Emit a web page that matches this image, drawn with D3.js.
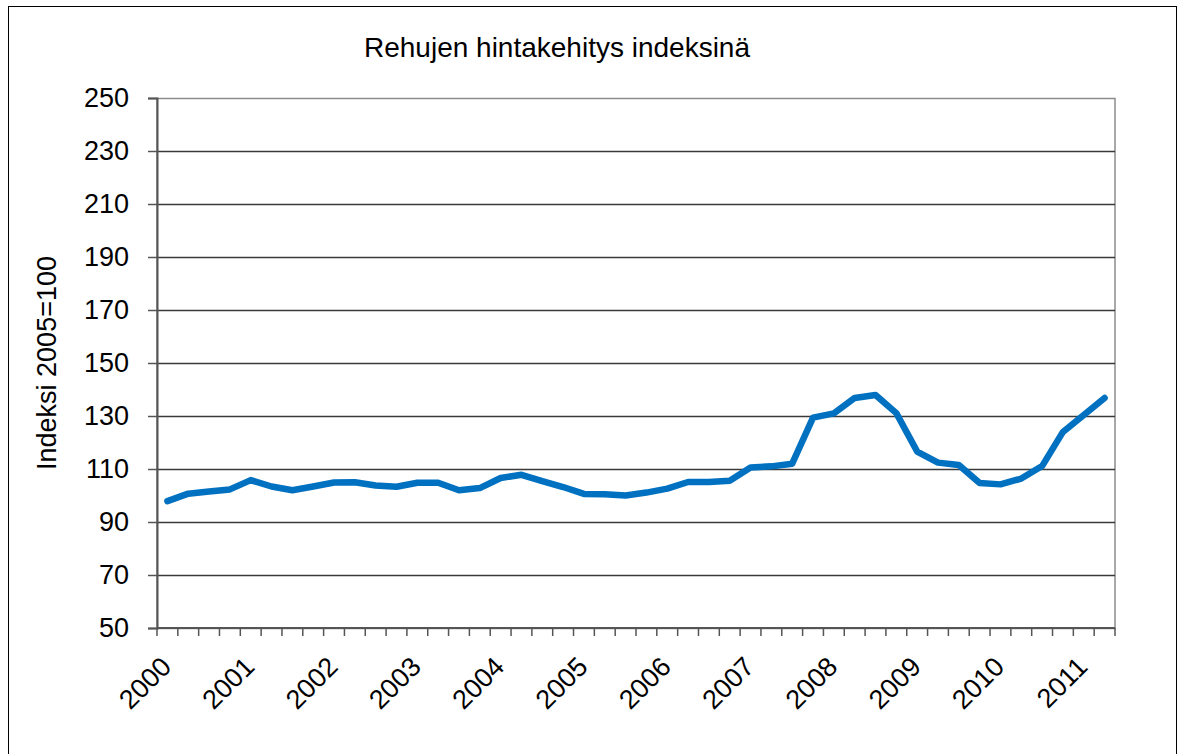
<!DOCTYPE html>
<html>
<head>
<meta charset="utf-8">
<script src="https://cdn.jsdelivr.net/npm/d3@7"></script>
<style>
  body { margin: 0; background: #fff; }
  text { font-family: "Liberation Sans", Arial, sans-serif; fill: #000; }
</style>
</head>
<body>
<div id="chart"></div>
<script>
// quarterly feed price index, 2000 Q1 .. 2011 Q2
var years = [2000, 2001, 2002, 2003, 2004, 2005, 2006, 2007, 2008, 2009, 2010, 2011];
var quarters = ["Q1", "Q2", "Q3", "Q4"];
var indexValues = [
  97.9, 100.7, 101.5, 102.3, 105.8, 103.4, 102.0, 103.4, 104.9, 105.0, 103.8, 103.3,
  104.8, 104.8, 102.0, 102.8, 106.6, 107.8, 105.4, 103.2, 100.6, 100.5, 100.0, 101.1,
  102.6, 105.1, 105.1, 105.6, 110.6, 111.0, 112.0, 129.4, 131.0, 136.8, 137.9, 131.1,
  116.6, 112.4, 111.5, 104.7, 104.2, 106.4, 111.1, 124.0, 130.4, 136.8
];
var yTicks = [50, 70, 90, 110, 130, 150, 170, 190, 210, 230, 250];

var categories = indexValues.map(function(v, i) {
  return years[0] + Math.floor(i / 4) + quarters[i % 4];
});

var svgWidth = 1181;
var svgHeight = 754;

var margin = { top: 98, right: 66, bottom: 126, left: 157 };
var width = svgWidth - margin.left - margin.right;
var height = svgHeight - margin.top - margin.bottom;

var svg = d3.select("#chart")
  .append("svg")
  .attr("width", svgWidth)
  .attr("height", svgHeight);

// outer frame
svg.append("rect")
  .attr("x", 8.5)
  .attr("y", 6.5)
  .attr("width", 1168)
  .attr("height", 760)
  .attr("fill", "none")
  .attr("stroke", "#000")
  .attr("stroke-width", 1);

var chartGroup = svg.append("g")
  .attr("transform", `translate(${margin.left}, ${margin.top})`);

// scales
var xScale = d3.scaleBand()
  .domain(categories)
  .range([0, width]);

var yScale = d3.scaleLinear()
  .domain([50, 250])
  .range([height, 0]);

// plot area border (gray)
chartGroup.append("rect")
  .attr("x", 0)
  .attr("y", 0.5)
  .attr("width", width)
  .attr("height", height)
  .attr("fill", "none")
  .attr("stroke", "#8c8c8c")
  .attr("stroke-width", 1.5);

// gridlines
chartGroup.selectAll(".grid")
  .data(yTicks.filter(function(t) { return t !== 50 && t !== 250; }))
  .enter()
  .append("line")
  .attr("x1", 0)
  .attr("x2", width)
  .attr("y1", d => Math.round(yScale(d)) + 0.5)
  .attr("y2", d => Math.round(yScale(d)) + 0.5)
  .attr("stroke", "#3a3a3a")
  .attr("stroke-width", 1.3);

// y axis
var leftAxis = d3.axisLeft(yScale)
  .tickValues(yTicks)
  .tickSize(9)
  .tickPadding(19);

var yAxisG = chartGroup.append("g").call(leftAxis);
yAxisG.select(".domain").attr("stroke", "#555").attr("stroke-width", 2);
yAxisG.selectAll(".tick line").attr("stroke", "#555").attr("stroke-width", 1.5);
yAxisG.selectAll(".tick text")
  .style("font-size", "27px")
  .style("font-family", "Liberation Sans, Arial, sans-serif")
  .attr("fill", "#000");

// x axis: ticks at every category boundary
var boundaries = d3.range(categories.length + 1).map(function(i) { return i * xScale.step(); });

var xAxisG = chartGroup.append("g")
  .attr("transform", `translate(0, ${height})`);

xAxisG.append("line")
  .attr("x1", 0)
  .attr("x2", width)
  .attr("y1", 0)
  .attr("y2", 0)
  .attr("stroke", "#555")
  .attr("stroke-width", 2);

xAxisG.selectAll(".xtick")
  .data(boundaries)
  .enter()
  .append("line")
  .attr("x1", d => d)
  .attr("x2", d => d)
  .attr("y1", 0)
  .attr("y2", 8)
  .attr("stroke", "#555")
  .attr("stroke-width", 1.5);

// year labels at first quarter of each year
xAxisG.selectAll(".xlabel")
  .data(years)
  .enter()
  .append("text")
  .attr("transform", function(d) {
    var cx = xScale(d + "Q1") + xScale.bandwidth() / 2;
    return `translate(${cx - 8}, 27) rotate(-45)`;
  })
  .attr("dy", "0.7em")
  .style("text-anchor", "end")
  .style("font-size", "27px")
  .text(d => d);

// the line
var line = d3.line()
  .x((d, i) => xScale(categories[i]) + xScale.bandwidth() / 2)
  .y(d => yScale(d));

chartGroup.append("path")
  .datum(indexValues)
  .attr("d", line)
  .attr("fill", "none")
  .attr("stroke", "#0070c0")
  .attr("stroke-width", 6.5)
  .attr("stroke-linejoin", "round")
  .attr("stroke-linecap", "round");

// title
svg.append("text")
  .attr("x", 557)
  .attr("y", 57)
  .style("text-anchor", "middle")
  .style("font-size", "28px")
  .text("Rehujen hintakehitys indeksinä");

// y axis label
svg.append("text")
  .attr("transform", `translate(56, ${margin.top + height / 2}) rotate(-90)`)
  .style("text-anchor", "middle")
  .style("font-size", "27px")
  .text("Indeksi 2005=100");
</script>
</body>
</html>
